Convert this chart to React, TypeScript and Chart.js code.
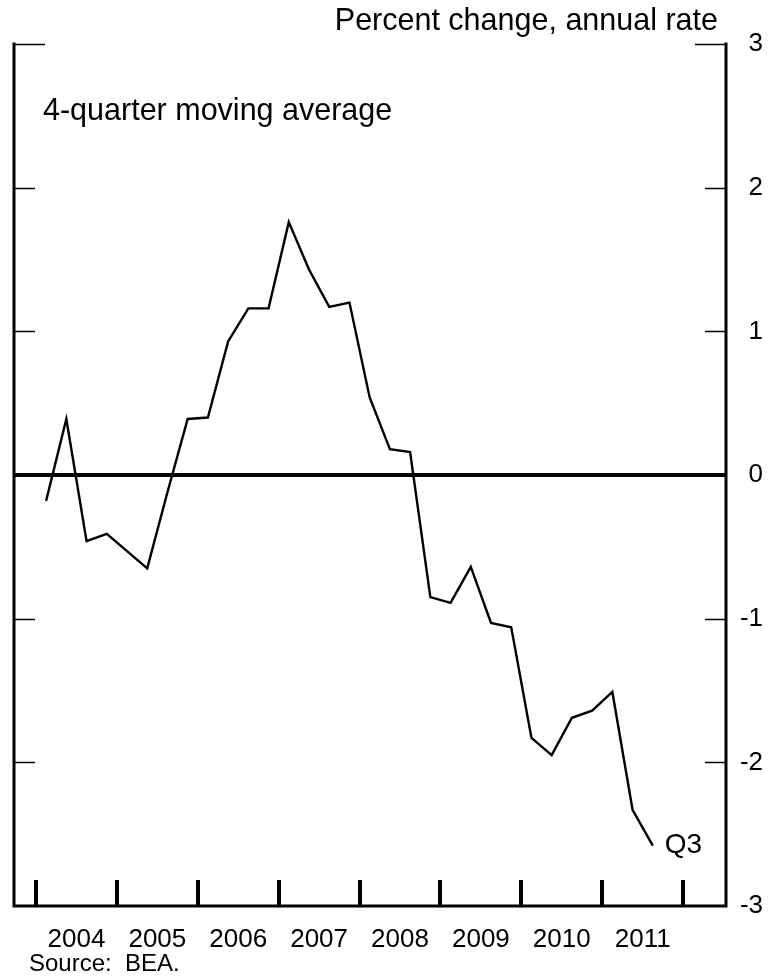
import React, { useEffect, useRef } from "react";
import { Chart, registerables } from "chart.js";

Chart.register(...registerables);

const quarters = [
  "2004Q1", "2004Q2", "2004Q3", "2004Q4",
  "2005Q1", "2005Q2", "2005Q3", "2005Q4",
  "2006Q1", "2006Q2", "2006Q3", "2006Q4",
  "2007Q1", "2007Q2", "2007Q3", "2007Q4",
  "2008Q1", "2008Q2", "2008Q3", "2008Q4",
  "2009Q1", "2009Q2", "2009Q3", "2009Q4",
  "2010Q1", "2010Q2", "2010Q3", "2010Q4",
  "2011Q1", "2011Q2", "2011Q3",
];

const values = [
  -0.18, 0.39, -0.46, -0.41,
  -0.53, -0.65, -0.12, 0.39,
  0.40, 0.93, 1.16, 1.16,
  1.76, 1.43, 1.17, 1.20,
  0.54, 0.18, 0.16, -0.85,
  -0.89, -0.64, -1.03, -1.06,
  -1.83, -1.95, -1.69, -1.64,
  -1.51, -2.33, -2.58,
];

const years = [2004, 2005, 2006, 2007, 2008, 2009, 2010, 2011];
const yTicks = [-3, -2, -1, 0, 1, 2, 3];

const FONT = "'Liberation Sans', Arial, sans-serif";

function quarterPos(q: string): number {
  const yr = parseInt(q.slice(0, 4), 10);
  const qn = parseInt(q.slice(5), 10);
  return yr + (qn - 0.5) / 4;
}

const decorPlugin = {
  id: "decor",
  afterDraw(chart: any) {
    const { ctx, chartArea, scales } = chart;
    const { left, right, top, bottom } = chartArea;
    const x = scales.x;
    const y = scales.y;
    ctx.save();
    ctx.strokeStyle = "#000";
    ctx.fillStyle = "#000";
    // y ticks (inward, both sides)
    ctx.lineWidth = 1.6;
    for (const v of yTicks) {
      if (v === yTicks[0]) continue;
      const py = Math.round(y.getPixelForValue(v)) + 0.5;
      const len = v === yTicks[yTicks.length - 1] ? 31 : 21;
      ctx.beginPath();
      ctx.moveTo(left, py);
      ctx.lineTo(left + len, py);
      ctx.moveTo(right, py);
      ctx.lineTo(right - len, py);
      ctx.stroke();
    }
    // frame: left, right, bottom
    ctx.lineWidth = 3;
    ctx.lineCap = "square";
    ctx.beginPath();
    ctx.moveTo(left, top);
    ctx.lineTo(left, bottom);
    ctx.lineTo(right, bottom);
    ctx.lineTo(right, top);
    ctx.stroke();
    // x year ticks
    const yrs = years.concat([years[years.length - 1] + 1]);
    for (const yr of yrs) {
      const px = x.getPixelForValue(yr);
      ctx.fillRect(Math.round(px) - 2, bottom - 26, 4, 26);
    }
    // texts
    ctx.textBaseline = "middle";
    ctx.font = `30.5px ${FONT}`;
    ctx.textAlign = "right";
    ctx.fillText("Percent change, annual rate", 718, 22);
    ctx.textAlign = "left";
    ctx.fillText("4-quarter moving average", left + 29, 112);
    const lastX = x.getPixelForValue(quarterPos(quarters[quarters.length - 1]));
    const lastY = y.getPixelForValue(values[values.length - 1]);
    ctx.font = `28px ${FONT}`;
    ctx.fillText("Q3", lastX + 12, lastY);
    ctx.font = `24px ${FONT}`;
    ctx.fillText("Source:  BEA.", 29, 964);
    ctx.restore();
  },
};

export default function App() {
  const ref = useRef<HTMLCanvasElement>(null);
  useEffect(() => {
    if (!ref.current) return;
    const chart = new Chart(ref.current, {
      type: "line",
      data: {
        datasets: [
          {
            data: quarters.map((q, i) => ({ x: quarterPos(q), y: values[i] })),
            borderColor: "#000",
            borderWidth: 2.4,
            pointRadius: 0,
            tension: 0,
            fill: false,
          },
        ],
      },
      options: {
        responsive: false,
        animation: false,
        layout: { padding: { left: 14, top: 44, right: 19, bottom: 0 } },
        plugins: {
          legend: { display: false },
          tooltip: { enabled: false },
          title: { display: false },
        },
        scales: {
          x: {
            type: "linear",
            min: 2003.728,
            max: 2012.53,
            border: { display: false },
            grid: { display: false, drawTicks: false },
            afterBuildTicks: (axis: any) => {
              axis.ticks = years.map((yr) => ({ value: yr + 0.5 }));
            },
            afterFit: (axis: any) => {
              axis.height = 72;
            },
            ticks: {
              autoSkip: false,
              maxRotation: 0,
              padding: 18,
              color: "#000",
              font: { family: FONT, size: 26 },
              callback: (v: any) => String(Math.floor(Number(v))),
            },
          },
          y: {
            position: "right",
            min: -3,
            max: 3,
            border: { display: false },
            afterBuildTicks: (axis: any) => {
              axis.ticks = yTicks.map((v) => ({ value: v }));
            },
            afterFit: (axis: any) => {
              axis.width = 37;
            },
            grid: {
              drawTicks: false,
              color: (c: any) => (c.tick && c.tick.value === 0 ? "#000" : "rgba(0,0,0,0)"),
              lineWidth: (c: any) => (c.tick && c.tick.value === 0 ? 4 : 0),
            },
            ticks: {
              crossAlign: "far",
              padding: 0,
              color: "#000",
              font: { family: FONT, size: 26 },
              callback: (v: any) => String(v),
            },
          },
        },
      },
      plugins: [decorPlugin],
    });
    return () => chart.destroy();
  }, []);
  return (
    <div style={{ position: "absolute", left: 0, top: 0, width: 782, height: 978 }}>
      <canvas ref={ref} width={782} height={978} style={{ display: "block" }} />
    </div>
  );
}
